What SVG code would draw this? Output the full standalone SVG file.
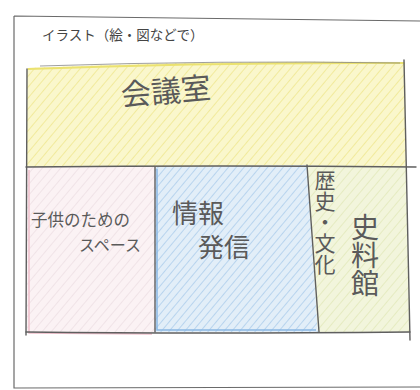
<svg xmlns="http://www.w3.org/2000/svg" width="420" height="390" viewBox="0 0 420 390">
<defs>
<pattern id="hy" width="7" height="7" patternUnits="userSpaceOnUse" patternTransform="rotate(40)">
<rect width="7" height="7" fill="#faf7cc"/><line x1="0" y1="0" x2="0" y2="7" stroke="#f1ea9c" stroke-width="2"/>
</pattern>
<pattern id="hp" width="7" height="7" patternUnits="userSpaceOnUse" patternTransform="rotate(40)">
<rect width="7" height="7" fill="#fbf2f4"/><line x1="0" y1="0" x2="0" y2="7" stroke="#eee0e4" stroke-width="1.6"/>
</pattern>
<pattern id="hb" width="6" height="6" patternUnits="userSpaceOnUse" patternTransform="rotate(40)">
<rect width="6" height="6" fill="#e2eef8"/><line x1="0" y1="0" x2="0" y2="6" stroke="#b8d4ee" stroke-width="2"/>
</pattern>
<pattern id="hg" width="7" height="7" patternUnits="userSpaceOnUse" patternTransform="rotate(40)">
<rect width="7" height="7" fill="#f2f5dc"/><line x1="0" y1="0" x2="0" y2="7" stroke="#e4eabe" stroke-width="1.8"/>
</pattern>
</defs>
<style>
.pen{fill:none;stroke:#5f5f5f;stroke-width:1.4;stroke-linecap:round}
.frame{fill:none;stroke:#6a6a6a;stroke-width:1.2}
.lbl{font-family:"Noto Sans CJK JP","Noto Sans CJK SC",sans-serif;fill:#5a5a5a}
.title{font-family:"Noto Sans CJK JP",sans-serif;font-size:13.5px;fill:#444}
</style>
<rect width="420" height="390" fill="#ffffff"/>
<path class="frame" d="M14,16 Q200,18 420,21 M14,16 L14,388 L420,387"/>
<text class="title" x="42" y="40">イラスト（絵・図などで）</text>
<g id="meeting-room">
<path d="M27,68 Q210,60 405,62 L406,167 L27,167 Z" fill="url(#hy)"/>
<path d="M28,69 Q210,62 404,63" fill="none" stroke="#ebe270" stroke-width="2"/>
<text class="lbl" x="122" y="106" font-size="30" transform="rotate(-5 122 106)">会議室</text>
</g>
<g id="kids-space">
<rect x="27" y="167" width="128" height="165" fill="url(#hp)"/>
<path d="M29,170 L29,333 L152,334" fill="none" stroke="#f0c0cc" stroke-width="1.5"/>
<text class="lbl" x="31" y="226" font-size="16.5">子供のための</text>
<text class="lbl" x="141" y="251" font-size="16" text-anchor="end">スペース</text>
</g>
<g id="info">
<path d="M155,167 L307,165 L318,332 L155,332 Z" fill="url(#hb)"/>
<path d="M157,169 L157,330 L316,330" fill="none" stroke="#8ab8e4" stroke-width="1.5"/>
<text class="lbl" x="172" y="223" font-size="26">情報</text>
<text class="lbl" x="198" y="257" font-size="26">発信</text>
</g>
<g id="history">
<path d="M307,165 L406,167 L410,332 L318,332 Z" fill="url(#hg)"/>
<text class="lbl" x="325" y="170" font-size="21" style="writing-mode:vertical-rl">歴史・文化</text>
<text class="lbl" x="365" y="213" font-size="28" style="writing-mode:vertical-rl">史料館</text>
</g>
<g id="connectors">
<path class="pen" d="M27,69 L26,335"/>
<path class="pen" d="M404,60 L410,340"/>
<path class="pen" d="M26,167 Q220,165 416,167"/>
<path class="pen" d="M26,332 Q200,334 410,332"/>
<path class="pen" d="M155,167 L155,332"/>
<path class="pen" d="M307,165 L319,332"/>
<path d="M40,66 Q220,60 400,63" fill="none" stroke="#888" stroke-width="0.8"/>
</g>
</svg>
